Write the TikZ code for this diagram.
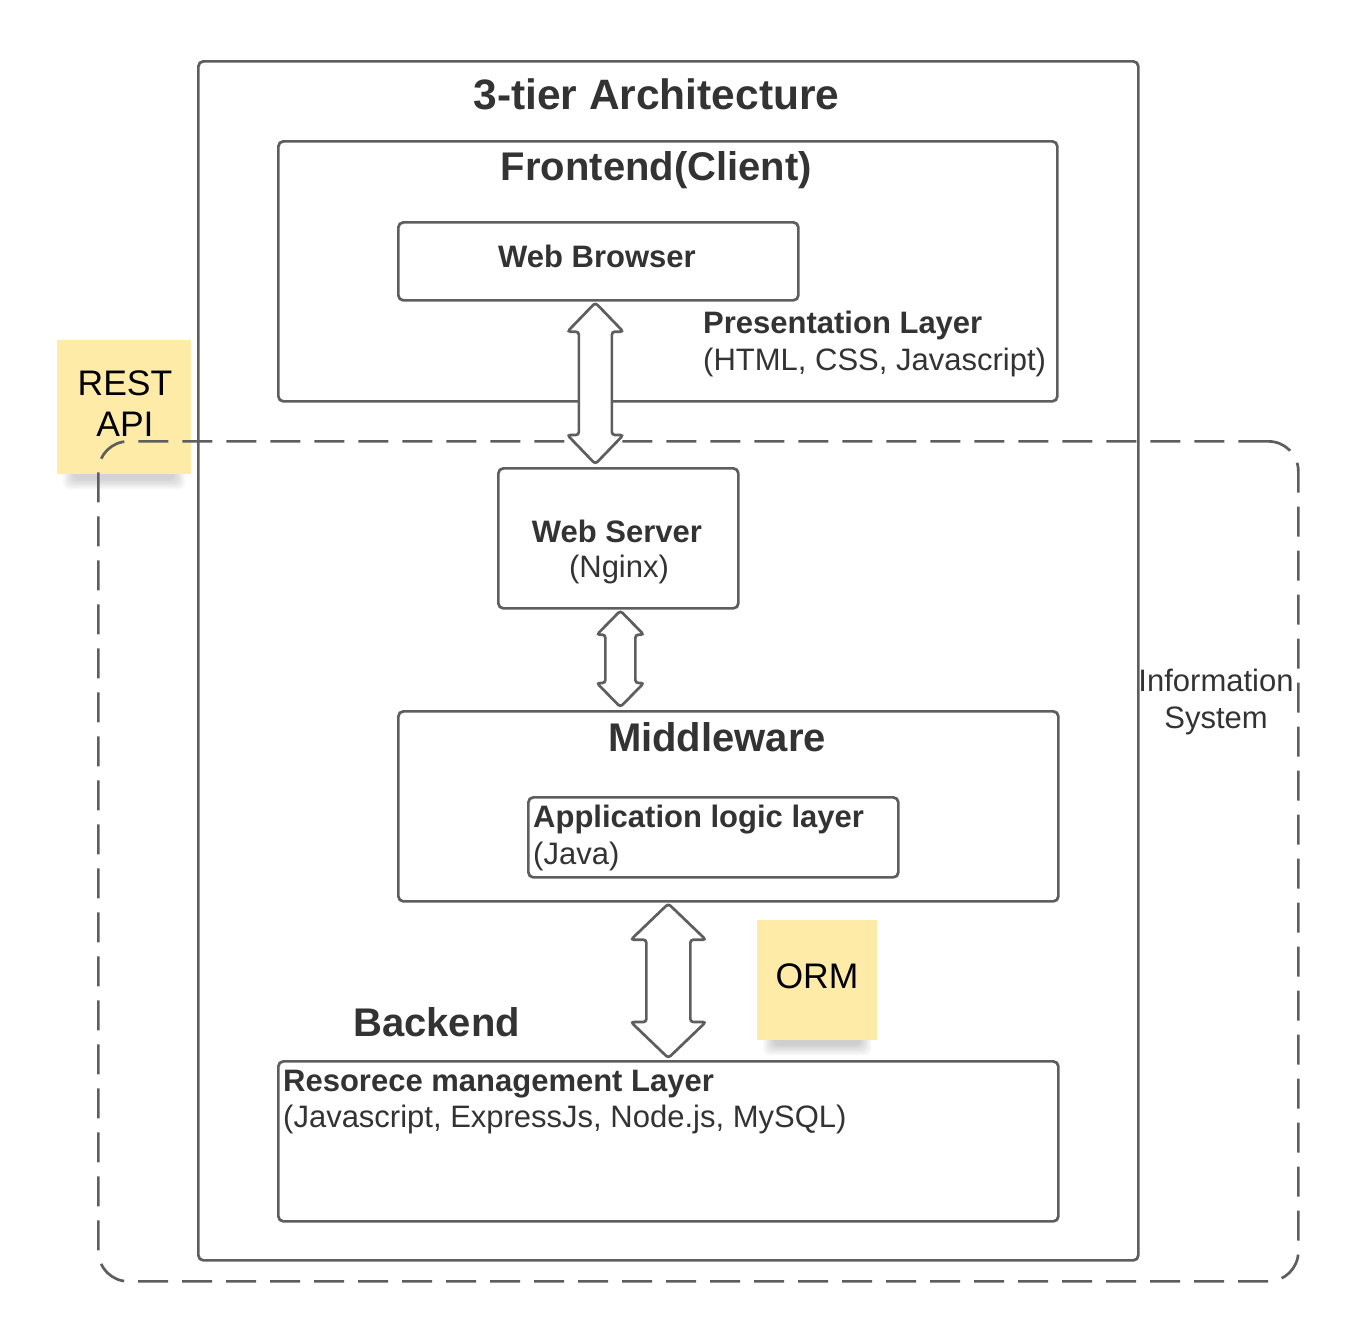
\documentclass[tikz,border=0pt]{standalone}
\usepackage{fontspec}
\setmainfont{Liberation Sans}
\usetikzlibrary{calc}
\definecolor{lc}{HTML}{5E5E5E}
\definecolor{tc}{HTML}{333333}
\definecolor{stickyfill}{HTML}{FFEBA8}
\newcommand\dblarrow[5]{%
  \draw[arrowshape] let \p1=#1, \p2=#2 in
   (\x1,\y1) -- (\x1+#3,\y1-#5) -- (\x1+#4,\y1-#5) -- (\x1+#4,\y2+#5) -- (\x1+#3,\y2+#5)
   -- (\x1,\y2) -- (\x1-#3,\y2+#5) -- (\x1-#4,\y2+#5) -- (\x1-#4,\y1-#5) -- (\x1-#3,\y1-#5) -- cycle;}
\newcommand\stickyshadow[1]{%
  \foreach \i in {0,...,7}{%
    \fill[black,opacity=0.022,rounded corners=6pt]
      ($(#1.south west)+(6+1.5*\i,-6)$) rectangle ($(#1.south east)+(-6-1.5*\i,15-1.4*\i)$);}}
\begin{document}
\begin{tikzpicture}[x=1pt,y=-1pt,
  box/.style={draw=lc, line width=2.7pt, rounded corners=5pt, inner sep=0pt, anchor=north west, fill=white},
  stickybox/.style={fill=stickyfill, inner sep=0pt, anchor=north west},
  region/.style={draw=lc, line width=2.7pt, rounded corners=30pt, dash pattern=on 30pt off 14pt, inner sep=0pt, anchor=north west},
  arrowshape/.style={draw=lc, line width=2.7pt, fill=white, rounded corners=3pt},
  ttl/.style={font=\fontsize{42.5}{50}\selectfont\bfseries, text=tc, inner sep=0pt, anchor=base},
  head/.style={font=\fontsize{40}{46}\selectfont\bfseries, text=tc, inner sep=0pt, anchor=base},
  bodyb/.style={font=\fontsize{31}{37}\selectfont\bfseries, text=tc, inner sep=0pt, anchor=base},
  body/.style={font=\fontsize{31}{37}\selectfont, text=tc, inner sep=0pt, anchor=base},
  stxt/.style={font=\fontsize{35.5}{41}\selectfont, text=black, inner sep=0pt, anchor=base},
]
\useasboundingbox (0,0) rectangle (1357,1320);
% boxes
\node[box, minimum width=940pt, minimum height=1199pt] (outer) at (197,60) {};
\node[box, minimum width=779pt, minimum height=260pt] (front) at (277,140) {};
\node[box, minimum width=400pt, minimum height=78pt] (wb) at (397,221) {};
\node[box, minimum width=240pt, minimum height=140pt] (ws) at (497,467) {};
\node[box, minimum width=660pt, minimum height=190pt] (mw) at (397,710) {};
\node[box, minimum width=370pt, minimum height=80pt] (app) at (527,796) {};
\node[box, minimum width=780pt, minimum height=160pt] (res) at (277,1060) {};
% texts
\node[ttl] (ttltext) at (656.5,109) {3-tier Architecture};
\node[head] (fronttext) at (656.5,180) {Frontend(Client)};
\node[bodyb] (wbtext) at (597,267) {Web Browser};
\node[bodyb, anchor=base west] (pres1) at (703,333) {Presentation Layer};
\node[body, anchor=base west] (pres2) at (703,370) {(HTML, CSS, Javascript)};
\node[bodyb] (ws1) at (617,542) {Web Server};
\node[body] (ws2) at (619,577) {(Nginx)};
\node[head] (mwtext) at (717,751) {Middleware};
\node[bodyb, anchor=base west] (app1) at (533,827) {Application logic layer};
\node[body, anchor=base west] (app2) at (533,864) {(Java)};
\node[head, anchor=base west] (backend) at (353,1036) {Backend};
\node[bodyb, anchor=base west] (res1) at (283,1091) {Resorece management Layer};
\node[body, anchor=base west] (res2) at (283,1127) {(Javascript, ExpressJs, Node.js, MySQL)};
% sticky notes
\node[stickybox, minimum width=134pt, minimum height=134pt] (rest) at (57,340) {};
\stickyshadow{rest}
\node[stickybox, minimum width=134pt, minimum height=134pt] at (57,340) {};
\node[stxt] (rest1) at (125,395) {REST};
\node[stxt] (rest2) at (125,436) {API};
\node[stickybox, minimum width=120pt, minimum height=120pt] (orm) at (757,920) {};
\stickyshadow{orm}
\node[stickybox, minimum width=120pt, minimum height=120pt] at (757,920) {};
\node[stxt] (ormtext) at (817,988) {ORM};
% information system region
\node[region, minimum width=1200pt, minimum height=840pt] (infosys) at (97,440) {};
\node[body] (info1) at (1216,691) {Information};
\node[body] (info2) at (1216,728) {System};
% double arrows
\dblarrow{([xshift=-3pt,yshift=-1pt]wb.south)}{([xshift=-3pt,yshift=3pt]wb.south |- ws.north)}{28pt}{16.5pt}{29pt}
\dblarrow{([xshift=2pt,yshift=-1pt]ws.south)}{([xshift=2pt,yshift=3pt]ws.south |- mw.north)}{23.5pt}{15pt}{24pt}
\dblarrow{([yshift=-1pt]res.north |- mw.south)}{([yshift=2pt]res.north)}{37.5pt}{22pt}{36pt}
\end{tikzpicture}
\end{document}
